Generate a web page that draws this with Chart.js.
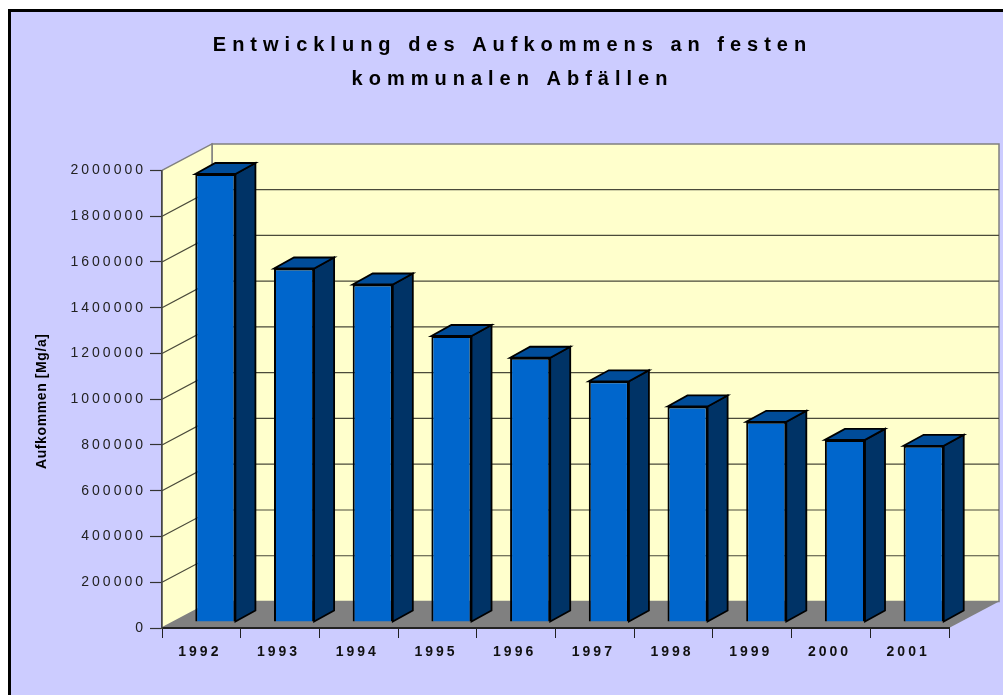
<!DOCTYPE html>
<html>
<head>
<meta charset="utf-8">
<title>Aufkommen</title>
<script src="https://cdn.jsdelivr.net/npm/chart.js@4/dist/chart.umd.min.js"></script>
<style>
html, body { margin: 0; padding: 0; background: #fff; overflow: hidden; }
#frame { position: absolute; left: 8px; top: 9px; width: 1000px; height: 700px;
  background: #ccccff; border-left: 3px solid #000; border-top: 3px solid #000; }
#chart { position: absolute; left: 0; top: 0; }
</style>
</head>
<body>
<div id="frame"></div>
<canvas id="chart" width="1003" height="695"></canvas>
<script>
// Daten
var titleLines = ['Entwicklung des Aufkommens an festen', 'kommunalen Abfällen'];
var axisTitle = 'Aufkommen [Mg/a]';
var years = ['1992', '1993', '1994', '1995', '1996', '1997', '1998', '1999', '2000', '2001'];
var amounts = [1958000, 1545000, 1475000, 1250000, 1155000, 1052000, 942000, 875000, 796000, 770000];

// 3D-Versatz
var WALL_DX = 50, WALL_DY = -26.5;
var BAR_DX = 14, BAR_DY = -6;
var DEPTH_DX = 20, DEPTH_DY = -11;

function poly(ctx, pts, fill, stroke, width) {
    ctx.beginPath();
    pts.forEach(function (p, i) {
        if (i === 0) { ctx.moveTo(p[0], p[1]); } else { ctx.lineTo(p[0], p[1]); }
    });
    ctx.closePath();
    ctx.fillStyle = fill;
    ctx.fill();
    if (stroke) {
        ctx.strokeStyle = stroke;
        ctx.lineWidth = width;
        ctx.lineJoin = 'miter';
        ctx.stroke();
    }
}

// letterSpacing gibt es in Chart.js nicht, also um die Zeichenmethode legen
function spaced(obj, method, spacing, dx, dy) {
    var orig = obj[method];
    obj[method] = function () {
        var ctx = obj.ctx;
        ctx.save();
        ctx.letterSpacing = spacing;
        ctx.translate(dx || 0, dy || 0);
        orig.apply(obj, arguments);
        ctx.restore();
    };
}

var chart3d = {
    id: 'chart3d',
    beforeDraw: function (chart) {
        var ctx = chart.ctx, a = chart.chartArea, y = chart.scales.y;
        if (!chart.$spaced) {
            spaced(chart.titleBlock, 'draw', '6px', 38, 0);
            spaced(chart.scales.x, 'drawLabels', '3px', -1.5, 0);
            spaced(chart.scales.y, 'drawLabels', '3px');
            spaced(chart.scales.y, 'drawTitle', '0.6px', 0, 2);
            chart.$spaced = true;
        }
        var top = y.getPixelForValue(y.max), bot = y.getPixelForValue(0);
        ctx.save();
        // Wände und Boden
        poly(ctx, [[a.left + WALL_DX, top + WALL_DY], [a.right + WALL_DX, top + WALL_DY],
            [a.right + WALL_DX, bot + WALL_DY], [a.left + WALL_DX, bot + WALL_DY]], '#ffffcc', '#808080', 1.5);
        poly(ctx, [[a.left, top], [a.left + WALL_DX, top + WALL_DY],
            [a.left + WALL_DX, bot + WALL_DY], [a.left, bot]], '#ffffcc', '#808080', 1.5);
        // Gitter
        ctx.strokeStyle = '#4a4a3a';
        ctx.lineWidth = 1.2;
        y.ticks.forEach(function (t) {
            var py = y.getPixelForValue(t.value);
            if (t.value === 0 || t.value === y.max) { return; }
            ctx.beginPath();
            ctx.moveTo(a.left, py);
            ctx.lineTo(a.left + WALL_DX, py + WALL_DY);
            ctx.lineTo(a.right + WALL_DX, py + WALL_DY);
            ctx.stroke();
        });
        poly(ctx, [[a.left, bot], [a.left + WALL_DX, bot + WALL_DY],
            [a.right + WALL_DX, bot + WALL_DY], [a.right, bot]], '#808080');
        ctx.restore();
    },
    beforeDatasetDraw: function (chart) {
        chart.ctx.save();
        chart.ctx.translate(BAR_DX, BAR_DY);
    },
    afterDatasetDraw: function (chart, args) {
        var ctx = chart.ctx;
        chart.getDatasetMeta(args.index).data.forEach(function (bar) {
            var l = bar.x - bar.width / 2, r = bar.x + bar.width / 2;
            poly(ctx, [[r, bar.y], [r + DEPTH_DX, bar.y + DEPTH_DY],
                [r + DEPTH_DX, bar.base + DEPTH_DY], [r, bar.base]], '#003366', '#000', 1.8);
            poly(ctx, [[l, bar.y], [l + DEPTH_DX, bar.y + DEPTH_DY],
                [r + DEPTH_DX, bar.y + DEPTH_DY], [r, bar.y]], '#004c99', '#000', 1.8);
        });
        ctx.restore();
    }
};

new Chart(document.getElementById('chart'), {
    type: 'bar',
    data: {
        labels: years,
        datasets: [{
            data: amounts,
            backgroundColor: '#0066cc',
            borderColor: '#000',
            borderWidth: 2,
            barPercentage: 0.51,
            categoryPercentage: 1,
            clip: false
        }]
    },
    plugins: [chart3d],
    options: {
        responsive: false,
        animation: false,
        layout: { padding: { left: 0, right: 54, top: 0, bottom: 0 } },
        plugins: {
            legend: { display: false },
            tooltip: { enabled: false },
            title: {
                display: true,
                text: titleLines,
                color: '#000',
                font: { family: '"Liberation Sans"', size: 20, weight: 'bold', lineHeight: 1.7 },
                padding: { top: 28, bottom: 74.4 }
            }
        },
        scales: {
            x: {
                afterFit: function (s) { s.height = 67; },
                grid: { offset: true, drawOnChartArea: false, drawTicks: true, tickLength: 10, tickColor: '#222', tickWidth: 1 },
                border: { display: true, color: '#222', width: 2 },
                ticks: {
                    color: '#111', autoSkip: false, maxRotation: 0, minRotation: 0, padding: 6,
                    font: { family: '"Liberation Sans"', size: 14, weight: 'bold' }
                }
            },
            y: {
                min: 0,
                max: 2000000,
                afterFit: function (s) { s.width = 162; },
                grid: { drawOnChartArea: false, drawTicks: true, tickLength: 12, tickColor: '#333', tickWidth: 1.2 },
                border: { display: true, color: '#444', width: 1.5 },
                title: {
                    display: true, text: axisTitle, color: '#000', padding: { top: 34, bottom: 0 },
                    font: { family: '"Liberation Sans"', size: 14, weight: 'bold' }
                },
                ticks: {
                    stepSize: 200000, color: '#222', padding: 4,
                    callback: function (v) { return String(v); },
                    font: { family: '"Liberation Sans"', size: 14 }
                }
            }
        }
    }
});
</script>
</body>
</html>
